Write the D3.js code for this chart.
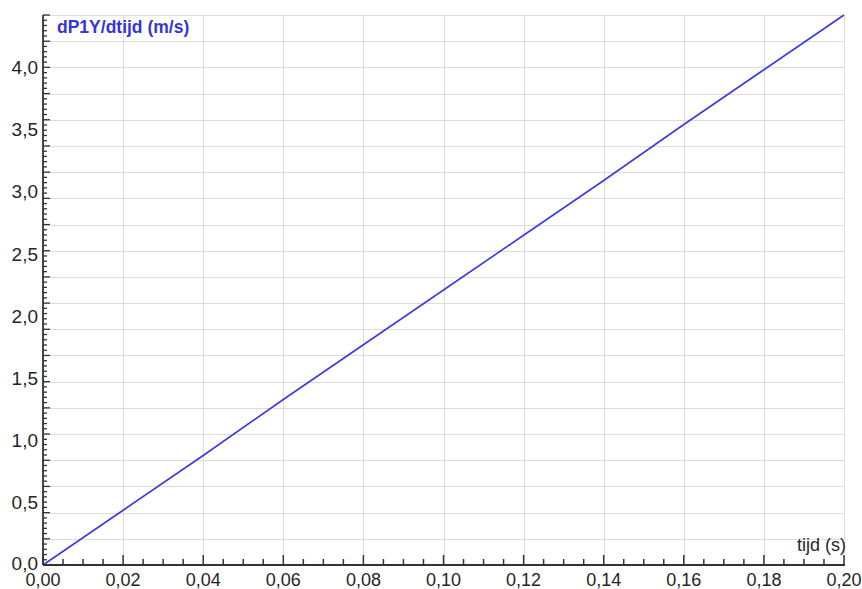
<!DOCTYPE html>
<html>
<head>
<meta charset="utf-8">
<script src="https://cdn.jsdelivr.net/npm/d3@7"></script>
<style>
  html, body { margin: 0; padding: 0; background: #fff; }
  svg { display: block; }
  text { font-family: Arial, "Liberation Sans", sans-serif; }
</style>
</head>
<body>
<svg id="chart" width="862" height="589"></svg>
<script>
// ---- data ----
const tijd = [0.00, 0.02, 0.04, 0.06, 0.08, 0.10, 0.12, 0.14, 0.16, 0.18, 0.20];
const snelheid = [0.00, 0.44, 0.88, 1.33, 1.77, 2.21, 2.65, 3.09, 3.54, 3.98, 4.42];
const xTickValues = [0.00, 0.02, 0.04, 0.06, 0.08, 0.10, 0.12, 0.14, 0.16, 0.18, 0.20];
const xTickLabels = ["0,00", "0,02", "0,04", "0,06", "0,08", "0,10", "0,12", "0,14", "0,16", "0,18", "0,20"];
const yTickValues = [0.0, 0.5, 1.0, 1.5, 2.0, 2.5, 3.0, 3.5, 4.0];
const yTickLabels = ["0,0", "0,5", "1,0", "1,5", "2,0", "2,5", "3,0", "3,5", "4,0"];
const xDomain = [0, 0.20];
const yDomain = [0, 4.42];
const yTitle = "dP1Y/dtijd (m/s)";
const xTitle = "tijd (s)";

(function () {
// ---- layout ----
const svg = d3.select("#chart");
const pLeft = 43, pRight = 844, pTop = 15, pBottom = 565;
const x = d3.scaleLinear().domain(xDomain).range([pLeft, pRight]);
const y = d3.scaleLinear().domain(yDomain).range([pBottom, pTop]);

const gridDiv = 21;
const yGrid = d3.range(gridDiv + 1).map(i => yDomain[0] + i * (yDomain[1] - yDomain[0]) / gridDiv);
const yMinor = d3.range(gridDiv * 5 + 1).map(i => yDomain[0] + i * (yDomain[1] - yDomain[0]) / (gridDiv * 5));
const xMinor = d3.range(0, 41).map(i => xDomain[0] + i * (xDomain[1] - xDomain[0]) / 40);

const g = svg.append("g");

// grid
g.append("g").selectAll("line").data(yGrid).join("line")
  .attr("x1", pLeft).attr("x2", pRight)
  .attr("y1", d => Math.round(y(d)) + 0.5).attr("y2", d => Math.round(y(d)) + 0.5)
  .attr("stroke", "#dcdcdc").attr("stroke-width", 1);
g.append("g").selectAll("line").data(xTickValues).join("line")
  .attr("x1", d => Math.round(x(d)) + 0.5).attr("x2", d => Math.round(x(d)) + 0.5)
  .attr("y1", pTop).attr("y2", pBottom)
  .attr("stroke", "#dcdcdc").attr("stroke-width", 1);

// data line
const line = d3.line().x((d, i) => x(tijd[i])).y(d => y(d));
g.append("path").datum(snelheid)
  .attr("d", line)
  .attr("fill", "none")
  .attr("stroke", "#3b3be0")
  .attr("stroke-width", 1.6);

// x axis
const axisColor = "#333";
g.append("line").attr("x1", pLeft).attr("x2", pRight + 1)
  .attr("y1", pBottom).attr("y2", pBottom)
  .attr("stroke", axisColor).attr("stroke-width", 1.8);
g.append("g").selectAll("line").data(xMinor).join("line")
  .attr("x1", d => x(d)).attr("x2", d => x(d))
  .attr("y1", pBottom).attr("y2", (d, i) => i % 4 === 0 ? pBottom - 10 : pBottom - 6)
  .attr("stroke", axisColor).attr("stroke-width", 1.5);
g.append("g").selectAll("text").data(xTickValues).join("text")
  .attr("x", d => x(d)).attr("y", 586)
  .attr("text-anchor", "middle")
  .attr("font-size", 18)
  .attr("fill", "#262626")
  .text((d, i) => xTickLabels[i]);

// y axis
g.append("line").attr("x1", pLeft).attr("x2", pLeft)
  .attr("y1", pTop).attr("y2", pBottom)
  .attr("stroke", axisColor).attr("stroke-width", 1.8);
g.append("g").selectAll("line").data(yMinor).join("line")
  .attr("x1", pLeft).attr("x2", (d, i) => i % 5 === 0 ? pLeft + 7 : pLeft + 4)
  .attr("y1", d => y(d)).attr("y2", d => y(d))
  .attr("stroke", axisColor).attr("stroke-width", 1.3);
g.append("g").selectAll("text").data(yTickValues).join("text")
  .attr("x", 38).attr("y", (d, i) => y(d) - (i === 0 ? 2 : 0))
  .attr("dy", "0.35em")
  .attr("text-anchor", "end")
  .attr("font-size", 19)
  .attr("fill", "#262626")
  .text((d, i) => yTickLabels[i]);

// titles
svg.append("text").attr("x", 57).attr("y", 33)
  .attr("font-size", 17.5).attr("font-weight", "bold")
  .attr("fill", "#3535d8")
  .text(yTitle);
svg.append("text").attr("x", 846).attr("y", 551)
  .attr("text-anchor", "end")
  .attr("font-size", 18).attr("fill", "#262626")
  .text(xTitle);
})();
</script>
</body>
</html>
